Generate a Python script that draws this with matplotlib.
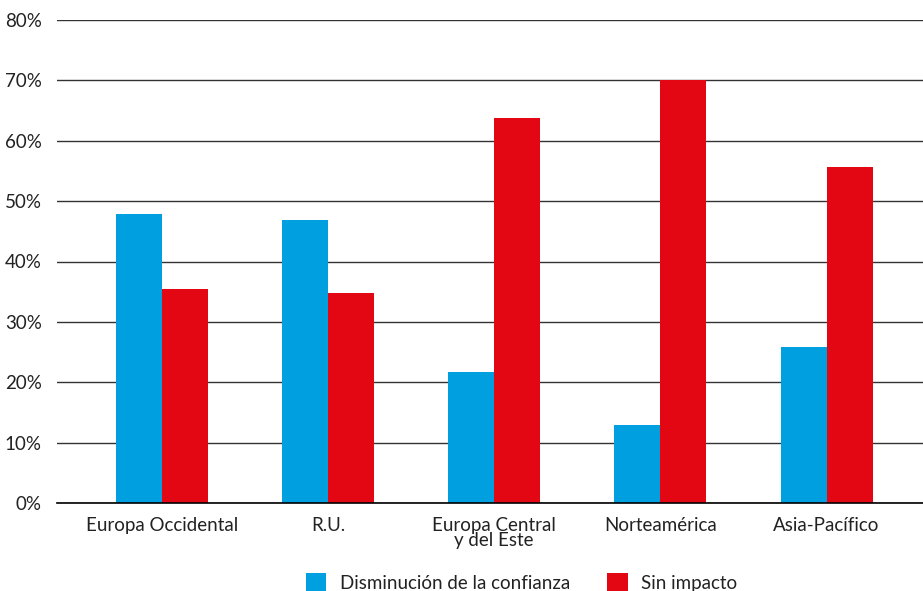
import numpy as np
import matplotlib.pyplot as plt

categories = ["Europa Occidental", "R.U.", "Europa Central\ny del Este", "Norteamérica", "Asia-Pacífico"]
disminucion = [47.8, 46.9, 21.7, 12.9, 25.9]
sin_impacto = [35.5, 34.8, 63.7, 70.0, 55.7]
series_names = ["Disminución de la confianza", "Sin impacto"]

plt.rcParams['font.family'] = ['Lato', 'DejaVu Sans']

fig = plt.figure(figsize=(9.23, 5.91), dpi=100)
ax = fig.add_axes([57 / 923, 88 / 591, 866 / 923, 483 / 591])

x = np.arange(len(categories))
w = 0.277
ax.bar(x - w / 2, disminucion, width=w, color='#009FE0', label=series_names[0], zorder=3)
ax.bar(x + w / 2, sin_impacto, width=w, color='#E30613', label=series_names[1], zorder=3)

ax.set_xlim(-0.63, 4.58)
ax.set_ylim(0, 80)
ax.set_yticks(range(0, 81, 10))
ax.set_yticklabels([f"{v}%" for v in range(0, 81, 10)], fontsize=13.5, color='#222222')
ax.set_xticks(x)
ax.set_xticklabels(categories, fontsize=13.5, color='#222222', linespacing=0.9)
ax.tick_params(axis='both', length=0)
ax.tick_params(axis='y', pad=11)
ax.tick_params(axis='x', pad=10)

ax.grid(axis='y', color='#333333', linewidth=1, zorder=0)
for s in ['top', 'right', 'left']:
    ax.spines[s].set_visible(False)
ax.spines['bottom'].set_color('black')
ax.spines['bottom'].set_linewidth(1.2)
ax.spines['bottom'].set_zorder(4)

fig.legend(loc='lower center', bbox_to_anchor=(0.565, -0.03), ncol=2, frameon=False,
           fontsize=13.5, handlelength=1.1, handleheight=1.1, columnspacing=2.0,
           handletextpad=0.7, labelcolor='#222222')

fig.savefig("out.png", dpi=100)
